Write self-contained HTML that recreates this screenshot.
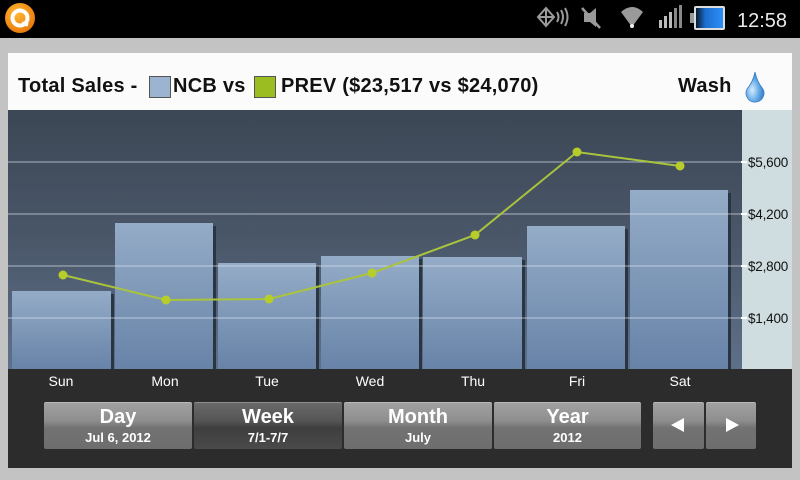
<!DOCTYPE html>
<html><head><meta charset="utf-8"><style>
*{margin:0;padding:0;box-sizing:border-box}
body{width:800px;height:480px;background:#c3c3c3;position:relative;overflow:hidden;font-family:"Liberation Sans",sans-serif}
.abs{position:absolute}
#status{left:0;top:0;width:800px;height:38px;background:#000}
#panel{left:8px;top:53px;width:784px;height:57px;background:#fbfbfb}
.t{position:absolute;top:75px;font-size:20px;color:#111;white-space:nowrap;font-weight:bold;letter-spacing:0.25px}
#footer{left:8px;top:369px;width:784px;height:99px;background:#2c2c2c}
.day{position:absolute;top:373px;width:60px;margin-left:-30px;text-align:center;color:#fff;font-size:14px}
.btn{position:absolute;top:402px;height:47px;border-radius:2px;color:#fff;text-align:center;font-weight:bold;
background:linear-gradient(#a2a2a2 0%,#8e8e8e 40%,#727272 55%,#6e6e6e 100%);box-shadow:inset 0 1px 0 rgba(255,255,255,0.25)}
.btn.sel{background:linear-gradient(#6a6a6a 0%,#555 40%,#3e3e3e 55%,#4a4a4a 100%)}
.btn .m{font-size:20px;line-height:20px;margin-top:5px;display:block}
.btn .s{font-size:13px;line-height:14px;margin-top:4px;display:block}
</style></head><body>
<div id="status" class="abs">
<svg width="800" height="38" class="abs" style="left:0;top:0">
 <defs>
  <radialGradient id="og" cx="0.4" cy="0.35" r="0.7"><stop offset="0" stop-color="#ffb733"/><stop offset="1" stop-color="#e8780a"/></radialGradient>
  <linearGradient id="batt" x1="0" x2="1"><stop offset="0" stop-color="#0a1a30"/><stop offset="0.35" stop-color="#1a6fd0"/><stop offset="1" stop-color="#2e8ef5"/></linearGradient>
 </defs>
 <circle cx="20" cy="18" r="15" fill="url(#og)"/>
 <circle cx="20" cy="18" r="7.5" fill="none" stroke="#fff" stroke-width="4"/>
 <path d="M22 23 L28 25" stroke="#fff" stroke-width="3.5"/>
 <g stroke="#9a9a9a" fill="none" stroke-width="2">
  <path d="M546 8 L554 17 L546 26 L538 17 Z"/><path d="M538 17 L554 17 M546 8 L546 26"/>
  <path d="M557 12 Q560 17 557 22"/><path d="M561 10 Q565 17 561 24"/><path d="M565 8 Q570 17 565 26"/>
 </g>
 <g fill="#9a9a9a"><path d="M584 13 L590 13 L596 8 L596 27 L590 22 L584 22 Z"/></g>
 <path d="M582 8 L600 28" stroke="#9a9a9a" stroke-width="2.5"/>
 <path d="M621 12 Q632 2 643 12 L632 27 Z" fill="#9a9a9a"/>
 <circle cx="632" cy="26" r="2" fill="#eee"/>
 <g fill="#bbb"><rect x="659" y="20" width="3" height="8"/><rect x="664" y="16" width="3" height="12"/><rect x="669" y="12" width="3" height="16"/><rect x="674" y="8" width="3" height="20" fill="#888"/><rect x="679" y="5" width="3" height="23" fill="#888"/></g>
 <rect x="690" y="13" width="4" height="10" fill="#999"/>
 <rect x="694" y="6" width="31" height="24" rx="2" fill="#ddd"/>
 <rect x="696" y="8" width="27" height="20" fill="url(#batt)"/>
 <text x="737" y="27" font-family="Liberation Sans" font-size="20" fill="#eaeaea">12:58</text>
</svg>
</div>

<div id="panel" class="abs"></div>
<div class="t" style="left:18px">Total Sales -</div>
<div class="abs" style="left:149px;top:76px;width:22px;height:22px;background:#9cb4cf;border:1px solid #555"></div>
<div class="t" style="left:173px">NCB vs</div>
<div class="abs" style="left:254px;top:76px;width:22px;height:22px;background:#9bbd22;border:1px solid #555"></div>
<div class="t" style="left:281px">PREV ($23,517 vs $24,070)</div>
<div class="t" style="left:678px">Wash</div>
<svg class="abs" style="left:744px;top:70px" width="24" height="34">
 <defs><radialGradient id="dg" cx="0.35" cy="0.6" r="0.7"><stop offset="0" stop-color="#d6ecff"/><stop offset="0.5" stop-color="#6aaee8"/><stop offset="1" stop-color="#2a74c4"/></radialGradient></defs>
 <path d="M11 2 Q13 12 19 19 A9 9 0 1 1 3 19 Q9 12 11 2 Z" fill="url(#dg)" stroke="#3a7bc0" stroke-width="0.8"/>
</svg>

<svg class="abs" style="left:8px;top:110px" width="784" height="259">
 <defs>
  <linearGradient id="bg" x1="0" y1="0" x2="0" y2="1"><stop offset="0" stop-color="#3c4755"/><stop offset="0.5" stop-color="#4a5769"/><stop offset="1" stop-color="#5e7089"/></linearGradient>
  <linearGradient id="bar" x1="0" y1="0" x2="0" y2="1"><stop offset="0" stop-color="#94acc7"/><stop offset="1" stop-color="#6883a8"/></linearGradient>
 </defs>
 <rect x="0" y="0" width="734" height="259" fill="url(#bg)"/>
 <rect x="734" y="0" width="50" height="259" fill="#cfdde0"/>
 <g fill="#2a3543">
  <rect x="103" y="184" width="3" height="75"/>
  <rect x="205" y="116" width="3" height="143"/>
  <rect x="308" y="156" width="3" height="103"/>
  <rect x="411" y="149" width="3" height="110"/>
  <rect x="514" y="150" width="3" height="109"/>
  <rect x="617" y="119" width="3" height="140"/>
  <rect x="720" y="83" width="3" height="176"/>
 </g>
 <g fill="url(#bar)">
  <rect x="4" y="181" width="99" height="78"/>
  <rect x="107" y="113" width="98" height="146"/>
  <rect x="210" y="153" width="98" height="106"/>
  <rect x="313" y="146" width="98" height="113"/>
  <rect x="415" y="147" width="99" height="112"/>
  <rect x="519" y="116" width="98" height="143"/>
  <rect x="622" y="80" width="98" height="179"/>
 </g>
 <g stroke="#dfe6ee" stroke-opacity="0.55" stroke-width="1.2">
  <line x1="0" y1="52" x2="734" y2="52"/>
  <line x1="0" y1="104" x2="734" y2="104"/>
  <line x1="0" y1="156" x2="734" y2="156"/>
  <line x1="0" y1="208" x2="734" y2="208"/>
 </g>
 <g stroke="#fff" stroke-width="2">
  <line x1="733" y1="52" x2="739" y2="52"/>
  <line x1="733" y1="104" x2="739" y2="104"/>
  <line x1="733" y1="156" x2="739" y2="156"/>
  <line x1="733" y1="208" x2="739" y2="208"/>
 </g>
 <g font-family="Liberation Sans" font-size="13.5" fill="#111" letter-spacing="-0.2">
  <text x="740" y="57">$5,600</text>
  <text x="740" y="109">$4,200</text>
  <text x="740" y="161">$2,800</text>
  <text x="740" y="213">$1,400</text>
 </g>
 <polyline points="55,165 158,190 261,189 364,163 467,125 569,42 672,56" fill="none" stroke="#a9c43c" stroke-width="2"/>
 <g fill="#b6cd2a">
  <circle cx="55" cy="165" r="4.5"/><circle cx="158" cy="190" r="4.5"/><circle cx="261" cy="189" r="4.5"/>
  <circle cx="364" cy="163" r="4.5"/><circle cx="467" cy="125" r="4.5"/><circle cx="569" cy="42" r="4.5"/><circle cx="672" cy="56" r="4.5"/>
 </g>
</svg>

<div id="footer" class="abs"></div>
<div class="day" style="left:61px">Sun</div>
<div class="day" style="left:165px">Mon</div>
<div class="day" style="left:267px">Tue</div>
<div class="day" style="left:370px">Wed</div>
<div class="day" style="left:473px">Thu</div>
<div class="day" style="left:577px">Fri</div>
<div class="day" style="left:680px">Sat</div>

<div class="btn" style="left:44px;width:148px"><span class="m">Day</span><span class="s">Jul 6, 2012</span></div>
<div class="btn sel" style="left:194px;width:148px"><span class="m">Week</span><span class="s">7/1-7/7</span></div>
<div class="btn" style="left:344px;width:148px"><span class="m">Month</span><span class="s">July</span></div>
<div class="btn" style="left:494px;width:147px"><span class="m">Year</span><span class="s">2012</span></div>
<div class="btn" style="left:653px;width:51px"><svg width="51" height="47"><path d="M18 23 L31 16 L31 30 Z" fill="#fff"/></svg></div>
<div class="btn" style="left:706px;width:50px"><svg width="50" height="47"><path d="M33 23 L20 16 L20 30 Z" fill="#fff"/></svg></div>
</body></html>
